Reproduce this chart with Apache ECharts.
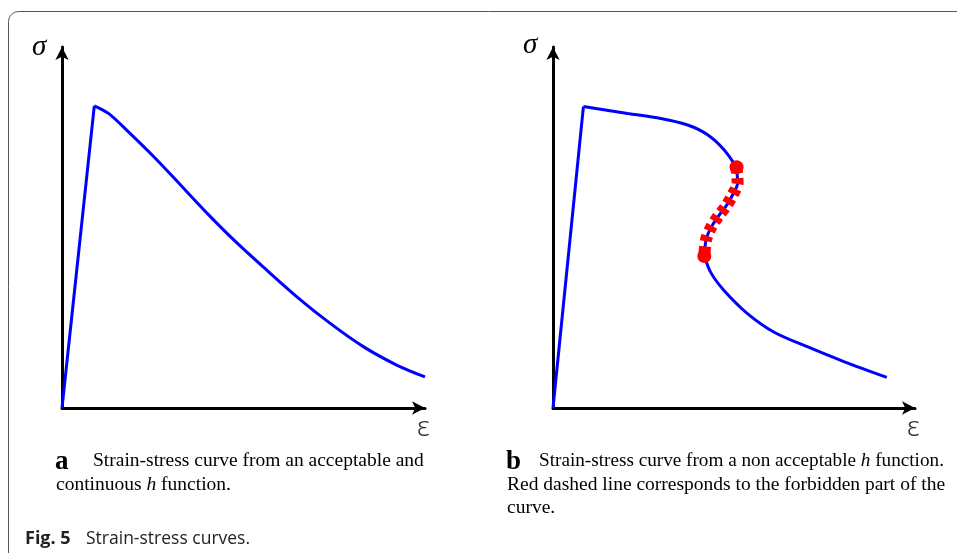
<!DOCTYPE html>
<html>
<head>
<meta charset="utf-8">
<script src="https://cdn.jsdelivr.net/npm/echarts@6/dist/echarts.min.js"></script>
<style>
  html, body { margin: 0; padding: 0; background: #fff; }
  #main { width: 957px; height: 553px; }
</style>
</head>
<body>
<div id="main"></div>
<script>
// panel a : acceptable h -> rise then smooth softening
var riseA = [[0, 0], [0.89, 8.37]];
var curveA = [[0.89, 8.37], [1.28, 8.16], [1.83, 7.65], [2.57, 6.92], [3.31, 6.13], [4.04, 5.35],
  [4.79, 4.60], [5.55, 3.90], [6.47, 3.08], [7.38, 2.35], [8.30, 1.70], [9.22, 1.19], [10.0, 0.86]];

// panel b : non acceptable h -> snap back part
var riseB = [[0, 0], [0.84, 8.35]];
var upperB = [[0.84, 8.35], [2.06, 8.16], [2.98, 8.02], [3.72, 7.84], [4.27, 7.57], [4.73, 7.15], [5.07, 6.67]];
var forbiddenB = [[5.07, 6.67], [5.10, 6.23], [4.96, 5.90], [4.78, 5.59], [4.55, 5.29], [4.36, 4.99], [4.23, 4.67], [4.18, 4.21]];
var lowerB = [[4.18, 4.21], [4.36, 3.75], [4.73, 3.25], [5.38, 2.61], [6.11, 2.10], [7.04, 1.69], [8.05, 1.28], [9.22, 0.85]];

var myChart = echarts.init(document.getElementById('main'));

function axisOf(idx) {
    return {
        type: 'value', gridIndex: idx, min: 0, max: 10,
        axisLine: { show: true, lineStyle: { color: '#000', width: 3 }, symbol: ['none', 'arrow'], symbolSize: [10, 13], symbolOffset: [0, 0] },
        axisTick: { show: false }, axisLabel: { show: false }, splitLine: { show: false }
    };
}
function blue(idx, data, smooth) {
    return {
        type: 'line', xAxisIndex: idx, yAxisIndex: idx, data: data, smooth: smooth,
        showSymbol: false, clip: false,
        lineStyle: { color: '#0000ff', width: 3 }
    };
}

var serif = '"Liberation Serif", "DejaVu Serif", serif';
function txt(x, y, text, font, extra) {
    var st = { text: text, font: font, fill: '#000', align: 'left', verticalAlign: 'middle' };
    if (extra) { for (var k in extra) st[k] = extra[k]; }
    return { type: 'text', x: x, y: y, style: st };
}
var capFont = '19.5px ' + serif;
var italicRich = { i: { font: 'italic 19.5px ' + serif } };

option = {
    animation: false,
    grid: [
        { left: 62, top: 47, width: 363, height: 361 },
        { left: 553, top: 47, width: 362, height: 361 }
    ],
    xAxis: [axisOf(0), axisOf(1)],
    yAxis: [axisOf(0), axisOf(1)],
    series: [
        blue(0, riseA, false),
        blue(0, curveA, 0.3),
        blue(1, riseB, false),
        blue(1, upperB, 0.3),
        blue(1, forbiddenB, 0.3),
        blue(1, lowerB, 0.3),
        {
            type: 'line', xAxisIndex: 1, yAxisIndex: 1, data: forbiddenB, smooth: 0.3,
            showSymbol: false, clip: false, z: 3,
            lineStyle: { color: '#ff0000', width: 12, type: [6, 5], cap: 'butt' }
        },
        {
            type: 'scatter', xAxisIndex: 1, yAxisIndex: 1, z: 4,
            data: [forbiddenB[0], forbiddenB[forbiddenB.length - 1]],
            symbolSize: 14, itemStyle: { color: '#ff0000', opacity: 1 }
        }
    ],
    graphic: [
        { type: 'rect', shape: { x: 8.5, y: 11.5, width: 1000, height: 600, r: [10, 0, 0, 0] },
          style: { fill: 'none', stroke: '#555', lineWidth: 1 } },
        txt(32, 47, 'σ', 'italic 29px ' + serif),
        txt(523, 45, 'σ', 'italic 29px ' + serif),
        txt(417, 428, 'ε', '300 27px "Noto Sans", sans-serif', { fill: '#333' }),
        txt(907, 428, 'ε', '300 27px "Noto Sans", sans-serif', { fill: '#333' }),
        txt(55, 462, 'a', 'bold 27px ' + serif),
        txt(93, 461, 'Strain-stress curve from an acceptable and', capFont),
        txt(56, 485, 'continuous {i|h} function.', capFont, { rich: italicRich }),
        txt(506, 462, 'b', 'bold 27px ' + serif),
        txt(539, 461, 'Strain-stress curve from a non acceptable {i|h} function.', '19.2px ' + serif, { rich: { i: { font: 'italic 19.2px ' + serif } } }),
        txt(507, 485, 'Red dashed line corresponds to the forbidden part of the', capFont),
        txt(507, 508, 'curve.', capFont),
        txt(25, 539, 'Fig. 5', 'bold 18px "Open Sans", sans-serif', { fill: '#222' }),
        txt(86, 539, 'Strain-stress curves.', '17.5px "Open Sans", sans-serif', { fill: '#222' })
    ]
};
myChart.setOption(option);
</script>
</body>
</html>
